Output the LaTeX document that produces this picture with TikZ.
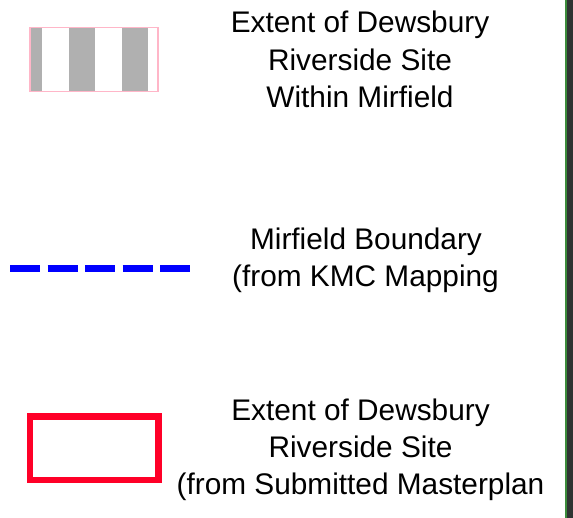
\documentclass[tikz,border=0pt]{standalone}
\usepackage{fontspec}
\setmainfont{Liberation Sans}
\definecolor{stripegray}{HTML}{B0B0B0}
\definecolor{pinkedge}{HTML}{FFB6C8}
\definecolor{bndblue}{HTML}{0000FF}
\definecolor{sitered}{HTML}{FF0028}
\definecolor{edgegreen}{HTML}{3C8C3C}
\definecolor{edgedark}{HTML}{2F3432}
\tikzset{
  legtext/.style={anchor=base, inner sep=0pt, font=\fontsize{29.8}{37}\selectfont, text=black},
  stripe/.style={fill=stripegray, draw=none},
}
\begin{document}
\begin{tikzpicture}[x=1pt, y=-1pt]
\useasboundingbox (0,0) rectangle (573,518);
\fill[white] (0,0) rectangle (573,518);
% right edge
\fill[edgedark] (567,0) rectangle (573,518);
\fill[edgegreen] (565,0) rectangle (567,518);
% hatched symbol
\fill[stripe] (31,28) rectangle (42,91);
\fill[stripe] (69,28) rectangle (95,91);
\fill[stripe] (122,28) rectangle (148,91);
\draw[pinkedge, line width=1.2pt] (30,27.5) rectangle (158,91.5);
% blue dashed boundary
\coordinate (bA) at (10,268.5);
\coordinate (bB) at (190,268.5);
\draw[bndblue, line width=7pt, dash pattern=on 30pt off 7.5pt] (bA) -- (bB);
% red site box
\draw[sitered, line width=6.5pt] (30,416.5) rectangle (158.5,480);
% texts
\node[legtext] (t1a) at (360,33) {Extent of Dewsbury};
\node[legtext] (t1b) at (360,70.5) {Riverside Site};
\node[legtext] (t1c) at (360,107.5) {Within Mirfield};
\node[legtext] (t2a) at (366,250) {Mirfield Boundary};
\node[legtext] (t2b) at (365.5,286.5) {(from KMC Mapping};
\node[legtext] (t3a) at (360.5,420.5) {Extent of Dewsbury};
\node[legtext] (t3b) at (360.5,457) {Riverside Site};
\node[legtext] (t3c) at (360.5,494.5) {(from Submitted Masterplan};
\end{tikzpicture}
\end{document}
